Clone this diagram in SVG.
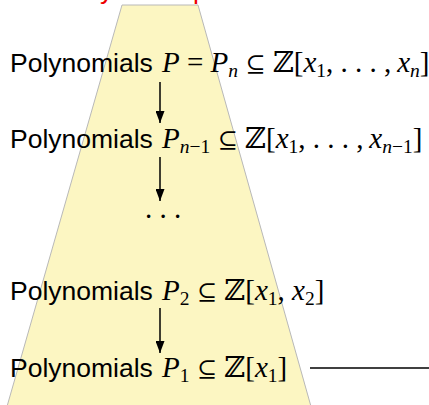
<svg xmlns="http://www.w3.org/2000/svg" width="429" height="405" viewBox="0 0 429 405">
<style>
.sans{font-family:"Liberation Sans",Arial,sans-serif;font-size:26.5px;fill:#000}
.math{font-family:"Liberation Serif","DejaVu Serif",serif;font-size:29px;fill:#000}
.it{font-style:italic}
.sub{font-size:19.5px}
.rel{font-size:24px}
.conn{stroke:#000;stroke-width:1.5;fill:none}
</style>
<defs>
<marker id="ah" viewBox="0 0 12 9" refX="12" refY="4.5" markerWidth="12" markerHeight="9" orient="auto" markerUnits="userSpaceOnUse">
<path d="M0,0 L12,4.5 L0,9 z" fill="#000"/>
</marker>
</defs>
<rect width="429" height="405" fill="#fff"/>
<g id="title">
<text class="sans" y="-1.5" style="fill:#e00"><tspan x="100">y</tspan><tspan x="193">p</tspan></text>
</g>
<g id="cone">
<polygon points="122,5 198,5 312,410 6,410" fill="#fcf6c2" stroke="#b8b8b8" stroke-width="1"/>
</g>
<g id="n1">
<text class="sans" x="10" y="72">Polynomials</text>
<text class="math" x="162" y="72"><tspan class="it">P</tspan> = <tspan class="it">P</tspan><tspan class="sub it" dy="5">n</tspan><tspan dy="-5"> </tspan><tspan class="rel">⊆</tspan><tspan> ℤ[</tspan><tspan class="it">x</tspan><tspan class="sub" dy="5">1</tspan><tspan dy="-5">, . . . ,&#8201;</tspan><tspan class="it">x</tspan><tspan class="sub it" dy="5">n</tspan><tspan dy="-5">]</tspan></text>
</g>
<g id="n2">
<text class="sans" x="10" y="148">Polynomials</text>
<text class="math" x="162" y="148"><tspan class="it">P</tspan><tspan class="sub" dy="5"><tspan class="it">n</tspan>−1</tspan><tspan dy="-5"> </tspan><tspan class="rel">⊆</tspan><tspan> ℤ[</tspan><tspan class="it">x</tspan><tspan class="sub" dy="5">1</tspan><tspan dy="-5">, . . . ,&#8201;</tspan><tspan class="it">x</tspan><tspan class="sub" dy="5"><tspan class="it">n</tspan>−1</tspan><tspan dy="-5">]</tspan></text>
</g>
<g id="n3">
<text class="math" x="145" y="218">. . .</text>
</g>
<g id="n4">
<text class="sans" x="10" y="300">Polynomials</text>
<text class="math" x="162" y="300"><tspan class="it">P</tspan><tspan class="sub" dy="5">2</tspan><tspan dy="-5"> </tspan><tspan class="rel">⊆</tspan><tspan> ℤ[</tspan><tspan class="it">x</tspan><tspan class="sub" dy="5">1</tspan><tspan dy="-5">, </tspan><tspan class="it">x</tspan><tspan class="sub" dy="5">2</tspan><tspan dy="-5">]</tspan></text>
</g>
<g id="n5">
<text class="sans" x="10" y="377">Polynomials</text>
<text class="math" x="162" y="377"><tspan class="it">P</tspan><tspan class="sub" dy="5">1</tspan><tspan dy="-5"> </tspan><tspan class="rel">⊆</tspan><tspan> ℤ[</tspan><tspan class="it">x</tspan><tspan class="sub" dy="5">1</tspan><tspan dy="-5">]</tspan></text>
</g>
<g id="connectors">
<line class="conn" x1="160" y1="82" x2="160" y2="123" marker-end="url(#ah)"/>
<line class="conn" x1="160" y1="157" x2="160" y2="201" marker-end="url(#ah)"/>
<line class="conn" x1="160" y1="308" x2="160" y2="353" marker-end="url(#ah)"/>
<line class="conn" x1="310" y1="368" x2="429" y2="368"/>
</g>
</svg>
